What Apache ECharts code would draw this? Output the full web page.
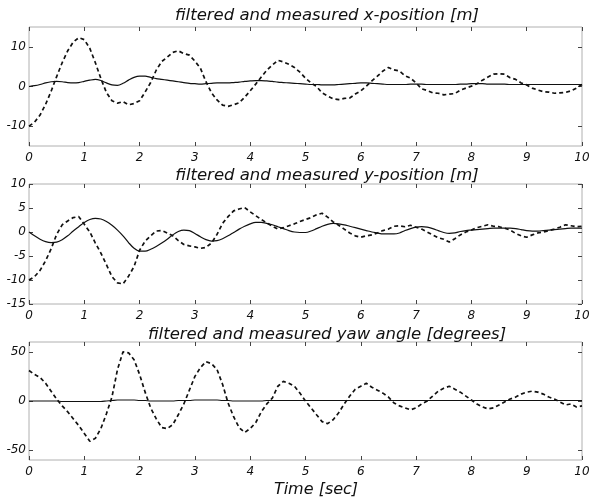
<!DOCTYPE html>
<html>
<head>
<meta charset="utf-8">
<script src="https://cdn.jsdelivr.net/npm/echarts@6/dist/echarts.min.js"></script>
<style>
  html, body { margin: 0; padding: 0; background: #fff; }
  #chart { width: 594px; height: 498px; }
</style>
</head>
<body>
<div id="chart"></div>
<script>
// sampled every 0.1 s, t = 0 .. 10
var dt = 0.1;

var xMeasured = [
  -10, -9, -7.2, -4.5, -1.2, 2.5, 6, 9, 11.2, 12.3,
  11.8, 9.6, 6, 2, -1.5, -3.6, -4.2, -3.8, -4.6, -4.3,
  -3.6, -1.4, 1, 4.1, 6.3, 7.4, 8.6, 9, 8.3, 7.9,
  6.4, 4.6, 1.2, -1.6, -3.4, -4.7, -5, -4.6, -4.1, -2.7,
  -1.1, 0.6, 2.4, 4.1, 5.4, 6.6, 6.2, 5.6, 4.8, 3.6,
  2.1, 0.9, 0, -1.6, -2.4, -3.1, -3.3, -3, -2.9, -1.9,
  -1.1, 0.1, 1.4, 2.6, 3.9, 4.8, 4.2, 3.9, 2.7, 2.1,
  0.9, -0.6, -1, -1.6, -1.7, -2.1, -1.9, -1.8, -0.9, -0.4,
  0.1, 0.7, 1.6, 2.4, 3.1, 3.2, 3.1, 2.2, 1.8, 0.9,
  0.4, -0.4, -0.9, -1.3, -1.4, -1.7, -1.6, -1.5, -1.1, -0.4,
  0.5
];
var xFiltered = [
  0, 0.2, 0.5, 0.9, 1.2, 1.3, 1.2, 1.0, 0.9, 1.0,
  1.3, 1.6, 1.8, 1.5, 0.9, 0.4, 0.3, 0.8, 1.6, 2.3,
  2.6, 2.6, 2.3, 2.0, 1.8, 1.6, 1.4, 1.2, 1.0, 0.8,
  0.7, 0.6, 0.7, 0.8, 0.9, 0.9, 0.9, 1.0, 1.1, 1.3,
  1.4, 1.5, 1.5, 1.4, 1.3, 1.1, 1.0, 0.9, 0.8, 0.7,
  0.6, 0.5, 0.5, 0.4, 0.4, 0.4, 0.5, 0.6, 0.7, 0.8,
  0.9, 0.9, 0.8, 0.7, 0.6, 0.5, 0.5, 0.5, 0.5, 0.6,
  0.6, 0.6, 0.5, 0.5, 0.5, 0.5, 0.5, 0.5, 0.6, 0.6,
  0.7, 0.7, 0.7, 0.6, 0.6, 0.6, 0.6, 0.5, 0.5, 0.5,
  0.5, 0.5, 0.5, 0.5, 0.5, 0.5, 0.5, 0.5, 0.5, 0.5,
  0.5
];

var yMeasured = [
  -10, -9.3, -8, -6, -3.5, -0.5, 1.5, 2.3, 3, 3.2,
  1.6, 0, -2.3, -4.4, -6.8, -9.3, -10.6, -10.8, -9.2, -7.2,
  -3.8, -1.9, -0.8, 0.2, 0.3, -0.2, -0.8, -1.8, -2.6, -2.9,
  -3.1, -3.4, -3.2, -2.3, -0.5, 1.8, 3.2, 4.4, 4.8, 5.1,
  4.2, 3.4, 2.6, 1.9, 1.2, 0.6, 0.9, 1.3, 1.7, 2.2,
  2.6, 3.0, 3.6, 3.9, 3.1, 2.1, 1.4, 0.6, -0.2, -0.8,
  -1.1, -0.8, -0.6, -0.2, 0.3, 0.6, 1.2, 1.3, 1.1, 1.4,
  1.0, 0.6, 0, -0.6, -1.2, -1.5, -2.1, -1.4, -0.6, 0,
  0.4, 0.9, 1.2, 1.5, 1.2, 1.1, 0.8, 0.4, -0.3, -0.8,
  -1.1, -0.6, -0.2, 0, 0.3, 0.6, 1.0, 1.5, 1.3, 1.1,
  1.2
];
var yFiltered = [
  0, -0.8, -1.5, -2.0, -2.2, -2.1, -1.6, -0.8, 0.2, 1.1,
  2.0, 2.6, 2.85, 2.7, 2.2, 1.4, 0.4, -0.8, -2.2, -3.4,
  -4.0, -4.0, -3.6, -3.0, -2.3, -1.5, -0.6, 0.1, 0.4, 0.3,
  -0.3, -1.0, -1.6, -1.9, -1.8, -1.4, -0.8, -0.1, 0.6, 1.2,
  1.7, 2.0, 2.0, 1.8, 1.5, 1.1, 0.7, 0.3, 0.0, -0.1,
  -0.1, 0.2, 0.7, 1.2, 1.6, 1.8, 1.7, 1.5, 1.2, 0.9,
  0.6, 0.3, 0.0, -0.2, -0.4, -0.4, -0.4, -0.2, 0.3, 0.7,
  1.0, 1.1, 1.0, 0.7, 0.3, -0.1, -0.3, -0.2, 0.1, 0.3,
  0.4, 0.5, 0.6, 0.7, 0.8, 0.8, 0.8, 0.8, 0.7, 0.5,
  0.3, 0.2, 0.2, 0.3, 0.4, 0.5, 0.6, 0.7, 0.8, 0.8,
  0.8
];

var yawMeasured = [
  31, 27, 24, 18, 10, 2, -5, -11, -18, -25,
  -33, -41, -38, -28, -13, 4, 32, 50, 49, 42,
  27, 9, -7, -18, -27, -28, -24, -14, -3, 11,
  25, 34, 40, 38, 32, 17, -2, -16, -27, -32,
  -28, -22, -11, -3, 3, 15, 20, 18, 15, 8,
  0, -7, -14, -21, -23, -19, -12, -3, 5, 12,
  15, 18, 14, 11, 8, 4, -2, -5, -7, -9,
  -7, -3, 0, 5, 10, 13, 15, 12, 9, 5,
  1, -3, -6, -8, -7, -4, -1, 2, 4, 7,
  9, 10, 9, 7, 4, 2, -1, -4, -3, -6,
  -5
];
var yawFiltered = [
  0, 0, 0, 0, 0, 0, -0.5, -0.5, -0.5, -0.5,
  -0.5, -0.5, -0.5, -0.5, 0, 0.5, 1, 1, 1, 1,
  0.5, 0.5, 0, 0, 0, 0, 0, 0.5, 0.5, 0.5,
  1, 1, 1, 1, 1, 0.5, 0.5, 0, 0, 0,
  0, 0, 0, 0.5, 0.5, 0.5, 0.5, 0.5, 0.5, 0.5,
  0.5, 0.5, 0.5, 0.5, 0.5, 0.5, 0.5, 0.5, 0.5, 0.5,
  0.5, 0.5, 0.5, 0.5, 0.5, 0.5, 0.5, 0.5, 0.5, 0.5,
  0.5, 0.5, 0.5, 0.5, 0.5, 0.5, 0.5, 0.5, 0.5, 0.5,
  0.5, 0.5, 0.5, 0.5, 0.5, 0.5, 0.5, 0.5, 0.5, 0.5,
  0.5, 0.5, 0.5, 0.5, 0.5, 0.5, 0.5, 0.5, 0.5, 0.5,
  0.5
];

var titles = [
  'filtered and measured x-position [m]',
  'filtered and measured y-position [m]',
  'filtered and measured yaw angle [degrees]'
];
var yRanges = [[-15, 15], [-15, 10], [-60, 60]];
var yTickValues = [[-10, 0, 10], [-15, -10, -5, 0, 5, 10], [-50, 0, 50]];

function pairs(arr) {
  return arr.map(function (v, i) { return [Math.round(i * dt * 10) / 10, v]; });
}

var chart = echarts.init(document.getElementById('chart'));

var grids = [
  { left: 29, right: 12, top: 27, height: 119 },
  { left: 29, right: 12, top: 184, height: 120 },
  { left: 29, right: 12, top: 342, height: 118 }
];
var titleTops = [2, 162, 321];
var labelFont = { fontFamily: 'DejaVu Sans', fontStyle: 'italic', fontSize: 12, color: '#111' };
var titleFont = { fontFamily: 'DejaVu Sans', fontStyle: 'italic', fontWeight: 'normal', fontSize: 16.5, color: '#111' };

var xAxes = [], yAxes = [], series = [], titleList = [];
grids.forEach(function (g, k) {
  g.show = true;
  g.borderColor = '#b0b0b0';
  g.borderWidth = 1;
  titleList.push({ text: titles[k], left: 322, top: titleTops[k], textAlign: 'center', textStyle: titleFont });
  // bottom + top x axes
  ['bottom', 'top'].forEach(function (pos) {
    xAxes.push({
      type: 'value', gridIndex: k, position: pos, min: 0, max: 10, interval: 1,
      axisLine: { show: false, onZero: false },
      axisTick: { show: true, inside: true, length: 4, lineStyle: { color: '#444' } },
      axisLabel: pos === 'bottom' ? Object.assign({ show: true, margin: 6 }, labelFont) : { show: false },
      splitLine: { show: false }
    });
  });
  ['left', 'right'].forEach(function (pos) {
    yAxes.push({
      type: 'value', gridIndex: k, position: pos, min: yRanges[k][0], max: yRanges[k][1],
      axisLine: { show: false, onZero: false },
      axisTick: { show: true, inside: true, length: 4, customValues: yTickValues[k], lineStyle: { color: '#444' } },
      axisLabel: pos === 'left' ? Object.assign({ show: true, margin: 3, customValues: yTickValues[k] }, labelFont) : { show: false },
      splitLine: { show: false }
    });
  });
});

var measured = [xMeasured, yMeasured, yawMeasured];
var filtered = [xFiltered, yFiltered, yawFiltered];
for (var k = 0; k < 3; k++) {
  series.push({
    type: 'line', xAxisIndex: k * 2, yAxisIndex: k * 2, data: pairs(filtered[k]),
    showSymbol: false, smooth: 0.3, lineStyle: { color: '#111', width: 1.2 }
  });
  series.push({
    type: 'line', xAxisIndex: k * 2, yAxisIndex: k * 2, data: pairs(measured[k]),
    showSymbol: false, lineStyle: { color: '#111', width: 1.7, type: [4, 3] }
  });
}

titleList.push({
  text: 'Time [sec]', left: 311, top: 477, textAlign: 'center',
  textStyle: Object.assign({}, titleFont, { fontSize: 16 })
});

chart.setOption({
  backgroundColor: '#ffffff',
  animation: false,
  title: titleList,
  grid: grids,
  xAxis: xAxes,
  yAxis: yAxes,
  series: series
});
</script>
</body>
</html>
